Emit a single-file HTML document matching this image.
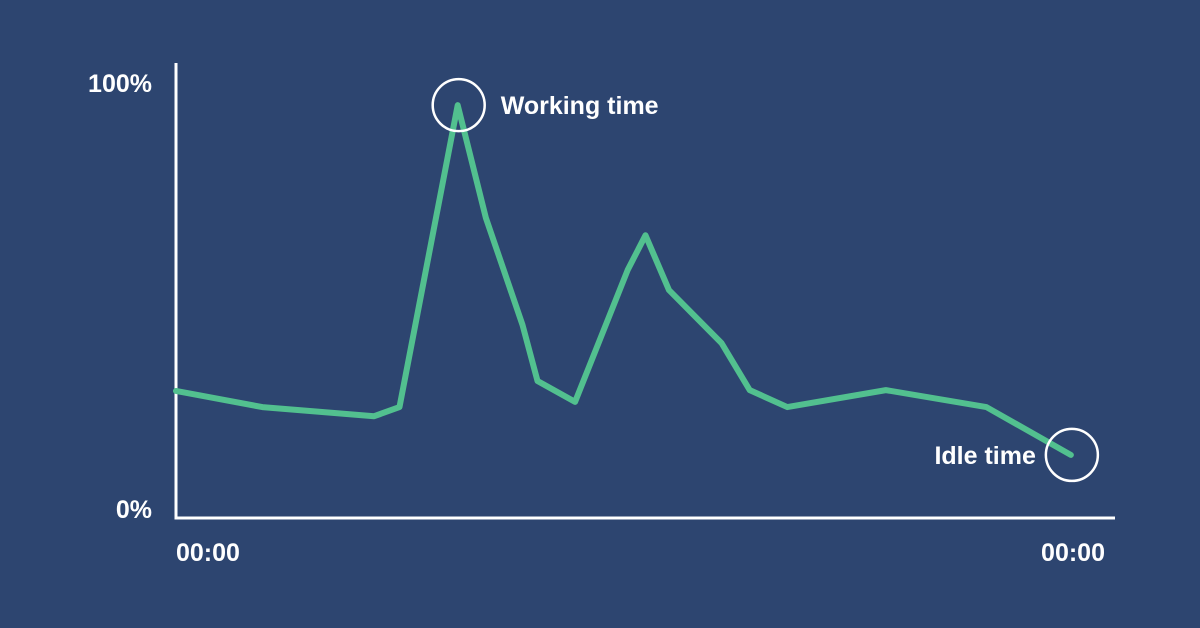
<!DOCTYPE html>
<html><head><meta charset="utf-8"><style>
html,body{margin:0;padding:0;background:#2d4570;}
svg{display:block}
text{font-family:"Liberation Sans",sans-serif;font-weight:bold;fill:#fff;}
</style></head><body>
<svg id="chart" width="1200" height="628" viewBox="0 0 1200 628">
<rect width="1200" height="628" fill="#2d4570"/>
<line x1="176" y1="63" x2="176" y2="518" stroke="#fff" stroke-width="3"/>
<line x1="174.5" y1="518" x2="1115" y2="518" stroke="#fff" stroke-width="3"/>
<text x="152" y="92" font-size="25" text-anchor="end">100%</text>
<text x="152" y="518" font-size="25" text-anchor="end">0%</text>
<text x="176" y="561" font-size="25">00:00</text>
<text x="1105" y="561" font-size="25" text-anchor="end">00:00</text>
<g id="marks"></g>
</svg>
<script>
const xPos = [0, 9.2, 21.1, 23.8, 30.0, 33.0, 36.9, 38.5, 42.5, 48.1, 50.0, 52.5, 58.1, 61.1, 65.1, 75.6, 86.3, 95.3];
const usage = [29.2, 25.5, 23.4, 25.5, 94.9, 69, 44.4, 31.5, 26.7, 57, 65, 52.4, 40.2, 29.4, 25.5, 29.4, 25.5, 14.5];
const annotations = ["Working time", "Idle time"];
const xs = v => 176 + v * 9.39;
const ys = v => 518 - v * 4.35;
const NS = "http://www.w3.org/2000/svg";
const g = document.getElementById("marks");
const pl = document.createElementNS(NS, "polyline");
pl.setAttribute("points", xPos.map((x, i) => xs(x) + "," + ys(usage[i])).join(" "));
pl.setAttribute("fill", "none");
pl.setAttribute("stroke", "#52c08f");
pl.setAttribute("stroke-width", "6");
pl.setAttribute("stroke-linejoin", "round");
pl.setAttribute("stroke-linecap", "round");


g.appendChild(pl);
let maxI = 0; usage.forEach((v, i) => { if (v > usage[maxI]) maxI = i; });
const lastI = usage.length - 1;
[[maxI, annotations[0], 1], [lastI, annotations[1], -1]].forEach(([i, label, dir], k) => {
  const cx = xs(xPos[i]) + 1, cy = ys(usage[i]);
  const c = document.createElementNS(NS, "circle");
  c.setAttribute("cx", cx); c.setAttribute("cy", cy); c.setAttribute("r", 26);
  c.setAttribute("fill", "none"); c.setAttribute("stroke", "#fff"); c.setAttribute("stroke-width", "2.5");
  
  
  g.appendChild(c);
  const t = document.createElementNS(NS, "text");
  t.setAttribute("x", dir > 0 ? cx + 42 : cx - 36);
  t.setAttribute("y", cy + 9);
  t.setAttribute("font-size", "25");
  t.setAttribute("text-anchor", dir > 0 ? "start" : "end");
  t.textContent = label;
  
  
  g.appendChild(t);
});
</script>
</body></html>
